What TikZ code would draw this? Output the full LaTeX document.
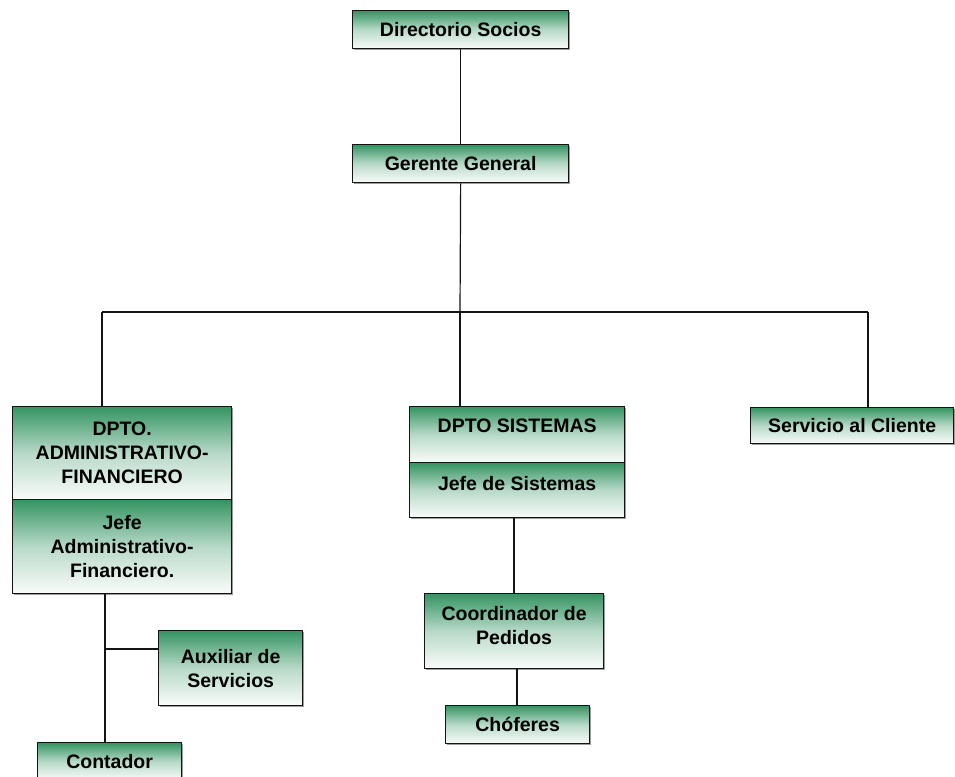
\documentclass[tikz,border=0pt]{standalone}
\usepackage{fontspec}
\setmainfont{Liberation Sans}
\usetikzlibrary{shadows}
\definecolor{boxgreen}{RGB}{52,148,98}
\definecolor{boxwhite}{RGB}{250,252,250}
\definecolor{lineblk}{RGB}{20,20,20}
\tikzset{
  orgbox/.style={draw=lineblk, line width=1.3pt, top color=boxgreen, bottom color=boxwhite,
    middle color=boxgreen!35!white,
    anchor=north west, align=center, inner sep=0pt,
    font=\bfseries\fontsize{19.5}{24}\selectfont,
    drop shadow={shadow xshift=1.2pt, shadow yshift=-1.2pt, fill=black!55, opacity=0.7}},
  conn/.style={draw=lineblk, line width=1.2pt}
}
\begin{document}
\begin{tikzpicture}[x=1pt,y=-1pt]
\useasboundingbox (0,0) rectangle (955,776);
\clip (0,0) rectangle (955,776);
% boxes
\node[orgbox, minimum width=216pt, minimum height=38pt] (dir) at (352,10) {Directorio Socios};
\node[orgbox, minimum width=216pt, minimum height=38pt] (ger) at (352,144) {Gerente General};
\node[orgbox, minimum width=219pt, minimum height=93pt] (dadm) at (12,406) {DPTO.\\ADMINISTRATIVO-\\FINANCIERO};
\node[orgbox, minimum width=219pt, minimum height=94pt] (jadm) at (12,499) {Jefe\\Administrativo-\\Financiero.};
\node[orgbox, minimum width=215pt, minimum height=56pt] (dsis) at (409,406) {DPTO SISTEMAS\\[-7pt]\mbox{}};
\node[orgbox, minimum width=215pt, minimum height=55pt] (jsis) at (409,462) {Jefe de Sistemas\\[-10pt]\mbox{}};
\node[orgbox, minimum width=203pt, minimum height=36pt] (serv) at (750,407) {Servicio al Cliente};
\node[orgbox, minimum width=179pt, minimum height=75pt] (coord) at (424,593) {Coordinador de\\Pedidos\\[-13pt]\mbox{}};
\node[orgbox, minimum width=144pt, minimum height=38pt] (chof) at (445,705) {Chóferes};
\node[orgbox, minimum width=144pt, minimum height=75pt] (aux) at (158,630) {Auxiliar de\\Servicios};
\node[orgbox, minimum width=144pt, minimum height=38pt] (cont) at (37,742) {Contador};
% coordinates
\coordinate (bar) at (460,312);
\coordinate (barL) at (102,312);
\coordinate (barR) at (868,312);
\coordinate (auxj) at (105,649);
% connectors
\draw[conn] (dir.south) -- (ger.north);
\draw[conn] (ger.south) -- (bar);
\draw[conn] (barL) -- (barR);
\draw[conn] (barL) -- (dadm.north -| barL);
\draw[conn] (bar) -- (dsis.north -| bar);
\draw[conn] (barR) -- (serv.north -| barR);
\draw[conn] (jadm.south -| auxj) -- (cont.north -| auxj);
\draw[conn] (auxj) -- (aux.west |- auxj);
\draw[conn] (jsis.south -| 514,0) -- (coord.north -| 514,0);
\draw[conn] (coord.south -| 517,0) -- (chof.north -| 517,0);
\end{tikzpicture}
\end{document}
